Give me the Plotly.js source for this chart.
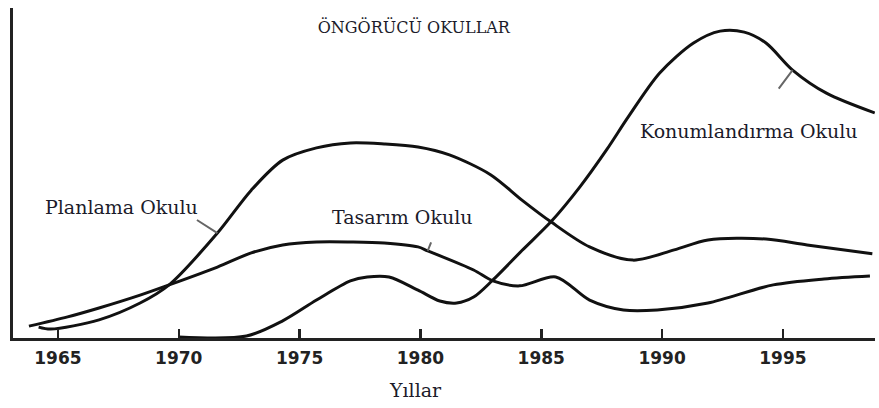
<!DOCTYPE html>
<html>
<head>
<meta charset="utf-8">
<script src="https://cdn.plot.ly/plotly-3.0.1.min.js"></script>
<style>html,body{margin:0;padding:0;background:#fff;}#chart{width:879px;height:408px;}</style>
</head>
<body>
<div id="chart"></div>
<script>
// Years (x) and relative level (y, arbitrary units 0-100)
var planYears = [1964.2, 1964.7, 1966.7, 1968.4, 1969.6, 1971.6, 1973.0, 1974.3, 1975.7, 1977.1, 1978.5, 1979.9, 1981.2, 1982.9, 1984.2, 1985.4, 1987.0, 1988.8, 1990.5, 1991.9, 1994.3, 1996.0, 1998.7];
var planVals  = [3.3, 2.7, 5.5, 10.6, 16.1, 31.8, 44.8, 53.9, 57.6, 59.1, 58.8, 57.9, 55.5, 49.5, 41.8, 35.2, 27.6, 23.6, 26.7, 29.7, 30.0, 28.2, 25.5];

var tasYears = [1963.8, 1965.4, 1966.7, 1968.4, 1969.6, 1971.6, 1973.0, 1974.3, 1975.7, 1977.1, 1978.5, 1979.9, 1980.3, 1982.2, 1983.0, 1984.1, 1985.6, 1987.0, 1988.4, 1989.8, 1991.9, 1994.6, 1996.7, 1998.6];
var tasVals  = [3.6, 6.4, 9.1, 13.0, 16.1, 21.5, 25.8, 28.2, 29.1, 29.1, 28.8, 27.6, 26.4, 20.6, 17.3, 15.8, 18.5, 11.5, 8.5, 8.5, 10.6, 16.1, 17.9, 18.8];

var konYears = [1970.0, 1972.8, 1974.3, 1975.7, 1977.1, 1977.8, 1978.7, 1979.9, 1980.8, 1981.5, 1982.2, 1983.0, 1984.2, 1985.4, 1986.6, 1987.7, 1988.6, 1989.9, 1991.3, 1992.4, 1993.4, 1994.3, 1995.4, 1996.8, 1998.8];
var konVals  = [0.3, 0.6, 5.2, 11.5, 17.3, 18.5, 18.5, 14.5, 11.2, 10.6, 12.4, 17.6, 26.5, 35.2, 45.8, 57.0, 67.0, 80.3, 89.4, 93.0, 92.7, 89.4, 81.2, 74.2, 68.2];

var tickYears = [1965, 1970, 1975, 1980, 1985, 1990, 1995];
var tickLabels = ['1965', '1970', '1975', '1980', '1985', '1990', '1995'];

var seriesNames = ['Planlama Okulu', 'Tasarım Okulu', 'Konumlandırma Okulu'];
var chartTitle = 'ÖNGÖRÜCÜ OKULLAR';
var xTitle = 'Yıllar';

var lineStyle = {color: '#111', width: 3, shape: 'spline', smoothing: 0.85};
function tr(x, y, name) {
  return {x: x, y: y, name: name, type: 'scatter', mode: 'lines', line: lineStyle, hoverinfo: 'skip'};
}
var data = [
  tr(planYears, planVals, seriesNames[0]),
  tr(tasYears, tasVals, seriesNames[1]),
  tr(konYears, konVals, seriesNames[2])
];

var serif = 'DejaVu Serif, Liberation Serif, serif';
var txtColor = '#1b1b2a';
function label(text, x, y) {
  return {text: text, x: x, y: y, xref: 'x', yref: 'y', showarrow: false,
          xanchor: 'center', yanchor: 'middle', font: {family: serif, size: 19, color: txtColor}};
}
function leader(i, xs, ys, ax, ay) {
  return {text: '', x: xs[i], y: ys[i], xref: 'x', yref: 'y', showarrow: true, arrowhead: 0,
          arrowwidth: 2, arrowcolor: '#666', ax: ax, ay: ay, standoff: 0, startstandoff: 0};
}

var layout = {
  width: 879, height: 408,
  margin: {l: 13, r: 4, t: 8, b: 70},
  paper_bgcolor: '#fff', plot_bgcolor: '#fff',
  showlegend: false,
  title: {text: chartTitle, x: 0.465, xref: 'paper', xanchor: 'center', y: 0.934, yanchor: 'middle',
          font: {family: serif, size: 16, color: txtColor}},
  xaxis: {range: [1963.14, 1998.81], showgrid: false, zeroline: false, showline: true,
          linecolor: '#222', linewidth: 3, ticks: 'inside', ticklen: 9, tickwidth: 2.5, tickcolor: '#222',
          tickvals: tickYears, ticktext: tickLabels, ticklabelstandoff: 3,
          tickfont: {family: 'DejaVu Sans, sans-serif', size: 17, color: '#222', weight: 'bold'}},
  yaxis: {range: [0, 100], showgrid: false, zeroline: false, showline: true, linecolor: '#222',
          linewidth: 3, showticklabels: false, ticks: ''},
  annotations: [
    label(seriesNames[0], 1967.65, 39.7),
    label(seriesNames[1], 1979.24, 36.7),
    label(seriesNames[2], 1993.6, 62.7),
    leader(5, planYears, planVals, -22, -14),
    leader(12, tasYears, tasVals, 4, -10),
    leader(22, konYears, konVals, -15, 20),
    {text: xTitle, xref: 'paper', yref: 'paper', x: 0.4675, y: -0.1576, showarrow: false,
     xanchor: 'center', yanchor: 'middle', font: {family: serif, size: 19, color: txtColor}}
  ]
};

Plotly.newPlot('chart', data, layout, {staticPlot: true, displayModeBar: false});
</script>
</body>
</html>
